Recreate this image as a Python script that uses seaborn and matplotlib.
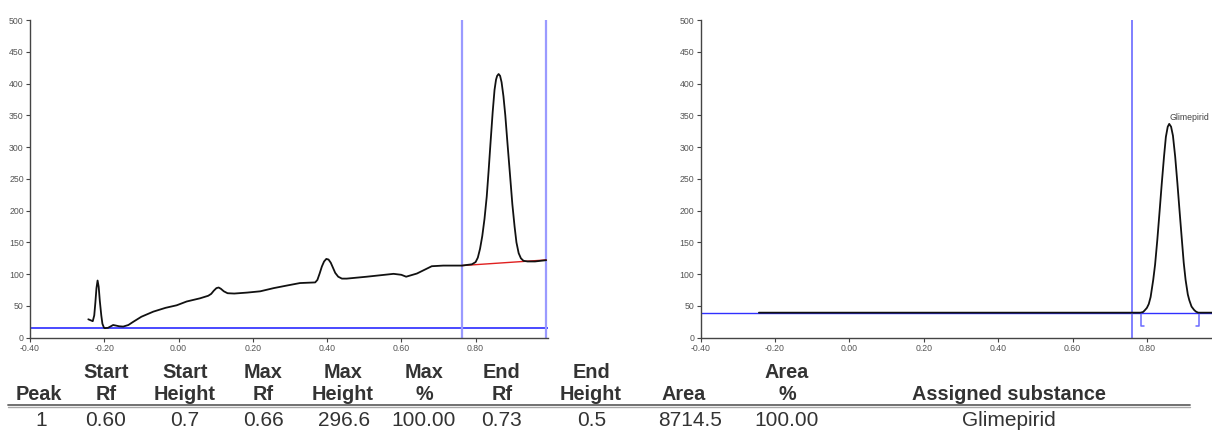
import matplotlib
matplotlib.use("Agg")
import matplotlib.pyplot as plt
import seaborn as sns
from matplotlib.lines import Line2D

# densitogram track (left)
left_rf = [-0.243, -0.231, -0.227, -0.224, -0.221, -0.218, -0.215, -0.212, -0.208, -0.205,
           -0.201, -0.199, -0.190, -0.176, -0.160, -0.149, -0.135, -0.122, -0.100, -0.068,
           -0.035, -0.005, 0.022, 0.058, 0.080, 0.088, 0.095, 0.102, 0.108, 0.114,
           0.122, 0.132, 0.150, 0.185, 0.220, 0.256, 0.291, 0.327, 0.368, 0.374,
           0.380, 0.386, 0.392, 0.398, 0.404, 0.410, 0.416, 0.422, 0.430, 0.440,
           0.453, 0.507, 0.579, 0.600, 0.613, 0.642, 0.682, 0.713, 0.763, 0.790,
           0.800, 0.806, 0.812, 0.818, 0.824, 0.830, 0.835, 0.840, 0.846, 0.851,
           0.855, 0.858, 0.862, 0.866, 0.870, 0.875, 0.880, 0.886, 0.893, 0.899,
           0.905, 0.910, 0.916, 0.922, 0.929, 0.940, 0.960, 0.990]
left_au = [29, 26, 35, 55, 78, 90, 80, 58, 35, 22,
           16, 15, 15.5, 20, 18, 17.5, 20, 25, 33, 41,
           47, 51, 57, 62, 66, 69, 74, 78, 79, 77,
           73, 70, 69.5, 71, 73, 78, 82, 86, 87, 91,
           101, 112, 120, 124, 123, 118, 110, 102, 96, 93,
           93, 96, 100.5, 99, 96, 101, 112.5, 113.5, 113.5, 115.5,
           119, 126, 140, 160, 187, 222, 262, 305, 355, 390,
           406, 412, 415, 412, 402, 380, 350, 305, 254, 210,
           175, 150, 133, 125, 121, 120, 120, 122]

# baseline-corrected peak (right)
right_rf = [-0.243, 0.783, 0.790, 0.795, 0.800, 0.805, 0.810, 0.817, 0.822, 0.828,
            0.834, 0.840, 0.846, 0.851, 0.856, 0.860, 0.865, 0.870, 0.876, 0.882,
            0.888, 0.894, 0.899, 0.904, 0.910, 0.914, 0.920, 0.927, 0.932, 0.938, 0.975]
right_au = [39.4, 39.4, 40.5, 43.6, 47, 53, 64, 91, 115, 154,
            198, 243, 285, 316, 332, 336.5, 332, 318, 285, 243,
            198, 154, 118, 91, 68, 59, 49, 43.6, 41, 39.4, 39.4]

left_zero = 15.5
right_zero = 39.4
window_rf = [0.763, 0.990]
red_base_rf = [0.763, 0.990]
red_base_au = [113.5, 122.4]
front_rf = 0.761
peak_start_rf = 0.784
peak_end_rf = 0.941
peak_max_rf = 0.860
peak_max_au = 336.5
peak_name = "Glimepirid"

head1 = ["", "Start", "Start", "Max", "Max", "Max", "End", "End", "", "Area", ""]
head2 = ["Peak", "Rf", "Height", "Rf", "Height", "%", "Rf", "Height", "Area", "%", "Assigned substance"]
row1 = ["1", "0.60", "0.7", "0.66", "296.6", "100.00", "0.73", "0.5", "8714.5", "100.00", "Glimepirid"]

sns.set_style("ticks")
plt.rcParams['font.family'] = ['Liberation Sans', 'DejaVu Sans']

W, H = 1212, 430
fig = plt.figure(figsize=(W / 100, H / 100), dpi=100)
ax1 = fig.add_axes([30 / W, 92.3 / H, 518 / W, 317.7 / H])
ax2 = fig.add_axes([700.5 / W, 92.3 / H, 511.5 / W, 317.7 / H])

# left: raw track with integration window
ax1.axhline(left_zero, color="#2a2aff", lw=1.2, zorder=1)
for r in window_rf:
    ax1.axvline(r, color="#9a9aff", lw=1.6, zorder=1)
sns.lineplot(x=red_base_rf, y=red_base_au, ax=ax1, color="#e02020", lw=1, zorder=2)
sns.lineplot(x=left_rf, y=left_au, ax=ax1, color="#111111", lw=1.3, sort=False, zorder=3)
ax1.set_xlim(-0.4, 0.995)

# right: baseline corrected
ax2.axhline(right_zero, color="#3030ff", lw=1, zorder=1)
ax2.axvline(front_rf, color="#6a6aff", lw=1.2, zorder=1)
sns.lineplot(x=right_rf, y=right_au, ax=ax2, color="#111111", lw=1.3, sort=False, zorder=3)
for r, d in [(peak_start_rf, 1), (peak_end_rf, -1)]:
    ax2.plot([r, r, r + d * 0.008], [right_zero, 18.5, 18.5], color="#6a6aff", lw=1.1)
ax2.text(peak_max_rf, peak_max_au + 3, peak_name, fontsize=6.3, color="#444444",
         ha="left", va="bottom")
ax2.set_xlim(-0.4, 0.975)

for ax in (ax1, ax2):
    ax.set_ylim(0, 500)
    ax.set_yticks(range(0, 501, 50))
    ax.set_xticks([-0.4, -0.2, 0.0, 0.2, 0.4, 0.6, 0.8])
    ax.set_xticklabels([f"{v:.2f}" for v in [-0.4, -0.2, 0.0, 0.2, 0.4, 0.6, 0.8]])
    ax.set_xlabel("")
    ax.set_ylabel("")
    ax.tick_params(labelsize=6.3, labelcolor="#555555", length=3, width=0.8,
                   color="#444444", pad=1.5)
    for s in ("top", "right"):
        ax.spines[s].set_visible(False)
    for s in ("left", "bottom"):
        ax.spines[s].set_color("#444444")
        ax.spines[s].set_linewidth(1)

# peak table under the plots
hx = [39, 106, 185, 263, 343, 424, 502, 591, 684, 787, 1009]
dx = [41, 106, 185, 264, 344, 424, 502, 592, 690, 787, 1009]
for x, a, b in zip(hx, head1, head2):
    fig.text(x / W, 1 - 372 / H, a, ha="center", va="center", fontsize=14.3,
             fontweight="bold", color="#333333")
    fig.text(x / W, 1 - 395 / H, b, ha="center", va="center", fontsize=14.3,
             fontweight="bold", color="#333333")
for x, v in zip(dx, row1):
    fig.text(x / W, 1 - 421 / H, v, ha="center", va="center", fontsize=15,
             color="#333333")
fig.add_artist(Line2D([8 / W, 1190 / W], [1 - 404.5 / H] * 2, color="#666666", lw=1.3))
fig.add_artist(Line2D([8 / W, 1190 / W], [1 - 407 / H] * 2, color="#aaaaaa", lw=1))

fig.savefig("out.png", dpi=100)
